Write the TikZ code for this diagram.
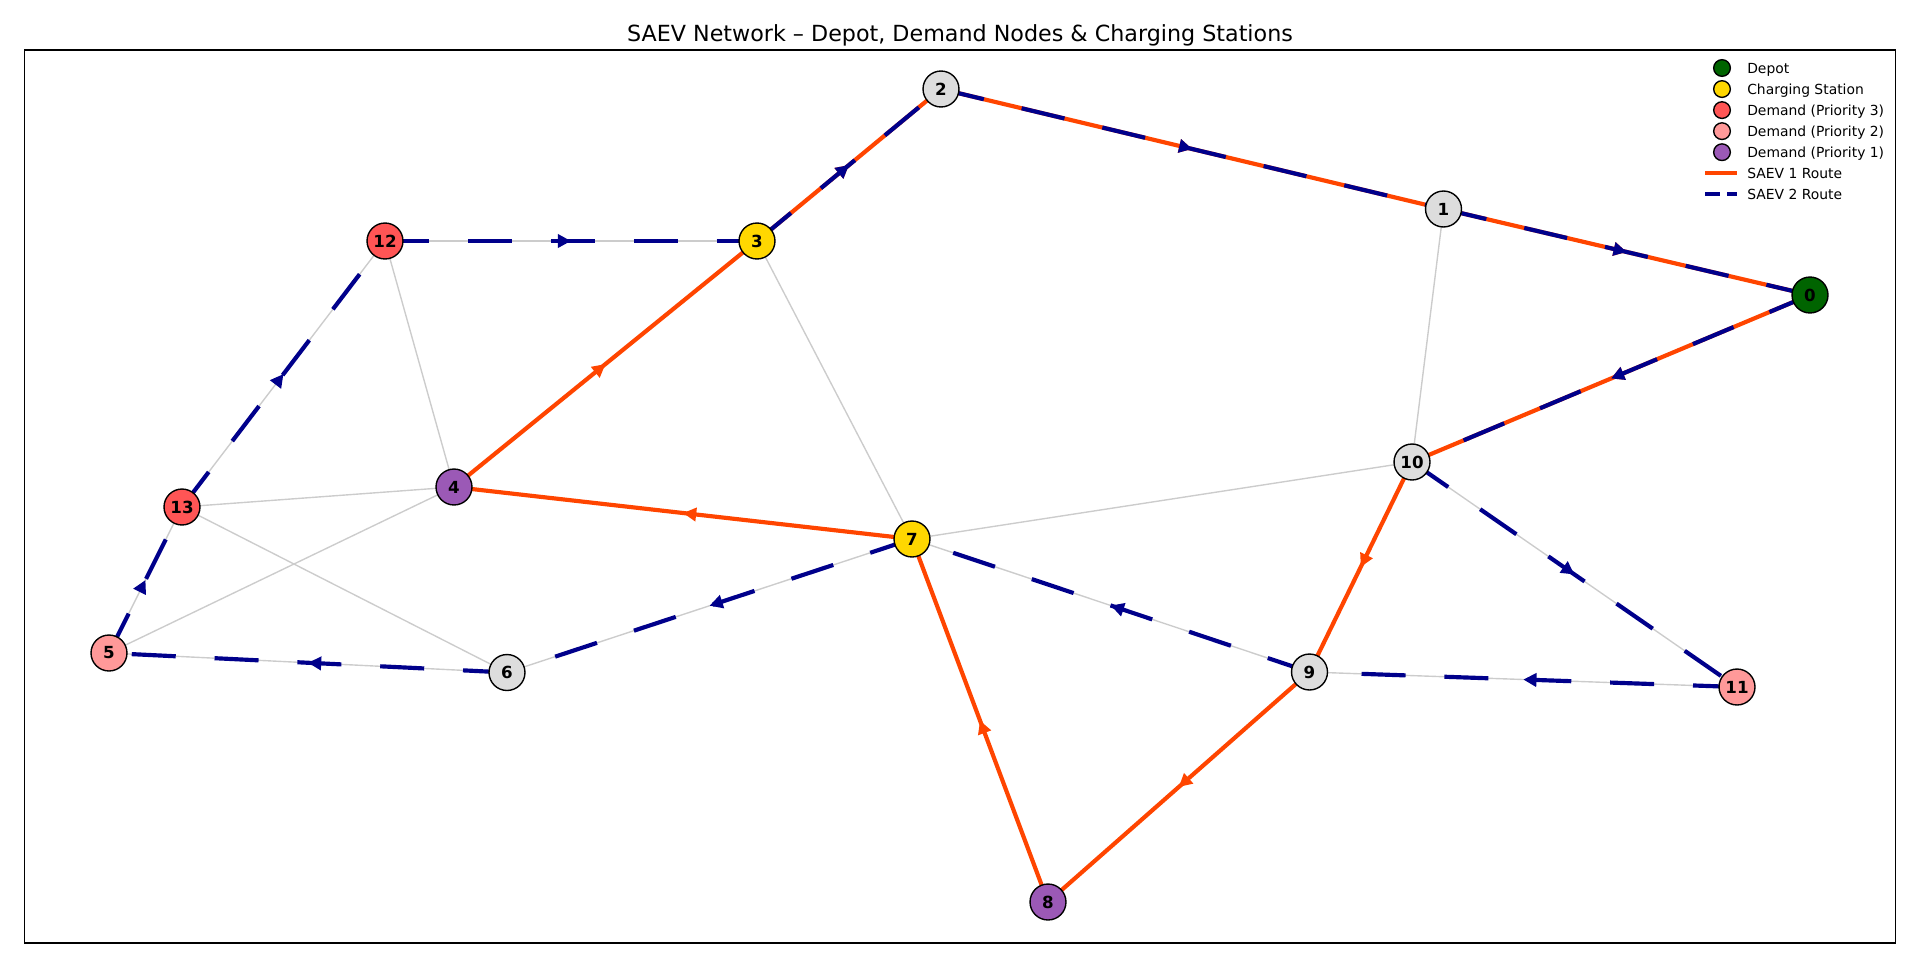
\documentclass[tikz,border=0pt]{standalone}
\usepackage{fontspec}
\setmainfont{DejaVu Sans}
\usetikzlibrary{arrows.meta,decorations.markings,backgrounds}
\definecolor{depotgreen}{HTML}{006400}
\definecolor{chargegold}{HTML}{FFD700}
\definecolor{priored}{HTML}{FF5555}
\definecolor{priopink}{HTML}{FF9999}
\definecolor{priopurple}{HTML}{9B59B6}
\definecolor{plaingray}{HTML}{DDDDDD}
\definecolor{linkgray}{HTML}{CCCCCC}
\definecolor{saevorange}{HTML}{FF4500}
\definecolor{saevblue}{HTML}{00008B}
\begin{document}
\begin{tikzpicture}[x=0.72pt,y=-0.72pt]
        \tikzstyle{stop}=[circle,draw,line width=1pt,minimum size=25.9pt,inner sep=0pt,font=\fontsize{12}{14}\selectfont\bfseries]
        \tikzstyle{key}=[circle,draw,line width=1pt,minimum size=12pt,inner sep=0pt]
        \tikzstyle{keytext}=[anchor=base west,inner sep=0pt,font=\fontsize{10}{12}\selectfont]
        \tikzstyle{link}=[linkgray,line width=1pt]
        \tikzstyle{routeone}=[saevorange,line width=3pt,postaction={decorate,decoration={markings,mark=at position 0.5 with {\arrow{Triangle[length=9.5pt,width=9.5pt]}}}}]
        \tikzstyle{routetwo}=[saevblue,line width=3pt,dash pattern=on 31.7pt off 28pt,postaction={solid,decorate,decoration={markings,mark=at position 0.5 with {\arrow[solid]{Triangle[length=9.5pt,width=9.5pt]}}}}]
        \useasboundingbox (0,0) rectangle (1920,961);
        \node[anchor=base,font=\fontsize{16}{19}\selectfont] (title) at (960,41.5) {SAEV Network -- Depot, Demand Nodes \& Charging Stations};
        \draw[line width=0.8pt] (24.5,50) rectangle (1895.5,943);
        \node[stop,fill=depotgreen] (n0) at (1810,295) {0};
        \node[stop,fill=plaingray] (n1) at (1443.5,209) {1};
        \node[stop,fill=plaingray] (n2) at (941,89) {2};
        \node[stop,fill=chargegold] (n3) at (757,241) {3};
        \node[stop,fill=priopurple] (n4) at (454,487) {4};
        \node[stop,fill=priopink] (n5) at (109,653) {5};
        \node[stop,fill=plaingray] (n6) at (507,672.5) {6};
        \node[stop,fill=chargegold] (n7) at (912,539) {7};
        \node[stop,fill=priopurple] (n8) at (1048,902) {8};
        \node[stop,fill=plaingray] (n9) at (1309.5,672) {9};
        \node[stop,fill=plaingray] (n10) at (1412,462) {10};
        \node[stop,fill=priopink] (n11) at (1737,687) {11};
        \node[stop,fill=priored] (n12) at (385,241) {12};
        \node[stop,fill=priored] (n13) at (182,507) {13};
        \begin{pgfonlayer}{background}
          \draw[link] (n12.center) -- (n3.center);
          \draw[link] (n12.center) -- (n13.center);
          \draw[link] (n12.center) -- (n4.center);
          \draw[link] (n3.center) -- (n7.center);
          \draw[link] (n3.center) -- (n2.center);
          \draw[link] (n3.center) -- (n4.center);
          \draw[link] (n2.center) -- (n1.center);
          \draw[link] (n1.center) -- (n0.center);
          \draw[link] (n1.center) -- (n10.center);
          \draw[link] (n10.center) -- (n0.center);
          \draw[link] (n10.center) -- (n7.center);
          \draw[link] (n10.center) -- (n11.center);
          \draw[link] (n10.center) -- (n9.center);
          \draw[link] (n13.center) -- (n4.center);
          \draw[link] (n13.center) -- (n6.center);
          \draw[link] (n13.center) -- (n5.center);
          \draw[link] (n4.center) -- (n5.center);
          \draw[link] (n4.center) -- (n7.center);
          \draw[link] (n7.center) -- (n6.center);
          \draw[link] (n7.center) -- (n9.center);
          \draw[link] (n7.center) -- (n8.center);
          \draw[link] (n9.center) -- (n11.center);
          \draw[link] (n9.center) -- (n8.center);
          \draw[link] (n5.center) -- (n6.center);
          \draw[routeone] (n0.center) -- (n10.center);
          \draw[routeone] (n10.center) -- (n9.center);
          \draw[routeone] (n9.center) -- (n8.center);
          \draw[routeone] (n8.center) -- (n7.center);
          \draw[routeone] (n7.center) -- (n4.center);
          \draw[routeone] (n4.center) -- (n3.center);
          \draw[routeone] (n3.center) -- (n2.center);
          \draw[routeone] (n2.center) -- (n1.center);
          \draw[routeone] (n1.center) -- (n0.center);
          \draw[routetwo] (n0.center) -- (n10.center);
          \draw[routetwo] (n10.center) -- (n11.center);
          \draw[routetwo] (n11.center) -- (n9.center);
          \draw[routetwo] (n9.center) -- (n7.center);
          \draw[routetwo] (n7.center) -- (n6.center);
          \draw[routetwo] (n6.center) -- (n5.center);
          \draw[routetwo] (n5.center) -- (n13.center);
          \draw[routetwo] (n13.center) -- (n12.center);
          \draw[routetwo] (n12.center) -- (n3.center);
          \draw[routetwo] (n3.center) -- (n2.center);
          \draw[routetwo] (n2.center) -- (n1.center);
          \draw[routetwo] (n1.center) -- (n0.center);
        \end{pgfonlayer}
        \node[key,fill=depotgreen] (k0) at (1722,68) {};
        \node[keytext] (t0) at (1747,73.3) {Depot};
        \node[key,fill=chargegold] (k1) at (1722,89.05) {};
        \node[keytext] (t1) at (1747,94.35) {Charging Station};
        \node[key,fill=priored] (k2) at (1722,110.1) {};
        \node[keytext] (t2) at (1747,115.4) {Demand (Priority 3)};
        \node[key,fill=priopink] (k3) at (1722,131.15) {};
        \node[keytext] (t3) at (1747,136.45) {Demand (Priority 2)};
        \node[key,fill=priopurple] (k4) at (1722,152.2) {};
        \node[keytext] (t4) at (1747,157.5) {Demand (Priority 1)};
        \coordinate (ka) at (1705,173.25);
        \coordinate (kb) at (1737,173.25);
        \draw[saevorange,line width=3pt] (ka) -- (kb);
        \node[keytext] (t5) at (1747,178.55) {SAEV 1 Route};
        \coordinate (kc) at (1705,194.3);
        \coordinate (kd) at (1737,194.3);
        \draw[saevblue,line width=3pt,dash pattern=on 11.1pt off 4.8pt] (kc) -- (kd);
        \node[keytext] (t6) at (1747,199.6) {SAEV 2 Route};
\end{tikzpicture}
\end{document}
